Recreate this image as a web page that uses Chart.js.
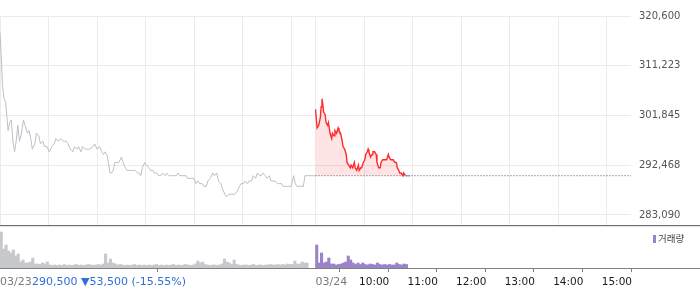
<!DOCTYPE html>
<html>
<head>
<meta charset="utf-8">
<script src="https://cdn.jsdelivr.net/npm/chart.js@4/dist/chart.umd.min.js"></script>
<style>
body { margin: 0; background: #fff; }
#wrap { position: relative; width: 700px; height: 289px; overflow: hidden; font-family: "DejaVu Sans", sans-serif; }
#priceChart { position: absolute; left: 0; top: 0; }
#volumeChart { position: absolute; left: 0; top: 226px; }
.sep { position: absolute; left: 0; width: 700px; height: 1px; }
#change { position: absolute; left: 32px; top: 276px; font-size: 11px; line-height: 12px; color: #2f6fd8; white-space: nowrap; }
#legend { position: absolute; left: 653px; top: 232px; font-family: "Noto Sans CJK KR", sans-serif; font-size: 9.5px; line-height: 12px; color: #444; white-space: nowrap; }
#legend i { display: inline-block; width: 3px; height: 8px; background: #9a83c8; margin-right: 2px; vertical-align: -1px; }
</style>
</head>
<body>
<div id="wrap">
    <canvas id="priceChart" width="700" height="226"></canvas>
    <canvas id="volumeChart" width="700" height="63"></canvas>
    <div class="sep" style="top:225px;background:#6e6e6e"></div>
    <div class="sep" style="top:226px;background:#e4e4e4"></div>
    <div class="sep" style="top:268px;background:#808080"></div>
    <div id="change">290,500 ▼53,500 (-15.55%)</div>
    <div id="legend"><i></i>거래량</div>
</div>

<script>
// minutes counted from 03/23 09:00, the 03/24 session starts at 390
const BASE_PRICE = 290500
const DAY_TWO_OPEN = 390
const SESSION_END = 780
const VOLUME_STEP = 3

const dayOneMinutes = [
    0, 2, 3, 5, 7, 8, 10, 12, 14, 16,
    18, 20, 22, 24, 26, 29, 31, 34, 36, 38,
    40, 43, 45, 48, 50, 53, 55, 58, 61, 64,
    67, 69, 72, 75, 78, 82, 84, 87, 90, 92,
    95, 97, 100, 102, 105, 108, 111, 115, 117, 120,
    123, 126, 128, 130, 132, 134, 136, 138, 140, 142,
    145, 147, 150, 152, 155, 157, 161, 164, 167, 170,
    172, 174, 176, 179, 181, 184, 186, 189, 191, 194,
    196, 199, 201, 204, 206, 209, 211, 213, 216, 218,
    220, 222, 225, 227, 230, 232, 235, 237, 240, 242,
    245, 247, 250, 252, 255, 257, 260, 263, 265, 268,
    270, 273, 275, 278, 280, 283, 287, 290, 293, 296,
    298, 301, 303, 306, 308, 311, 313, 316, 318, 321,
    323, 325, 328, 330, 333, 335, 338, 340, 343, 345,
    348, 350, 353, 355, 358, 360, 363, 365, 367, 370,
    372, 375, 377, 380, 389
]

const dayOnePrices = [
    317500, 311500, 307500, 305000, 304500, 302500, 299000, 300500, 301000, 297000,
    295000, 297000, 300000, 297000, 298000, 301000, 300000, 298500, 299000, 297500,
    295500, 296500, 298500, 298000, 296500, 297000, 296000, 296000, 295000, 296000,
    296500, 297500, 297000, 297500, 297000, 297000, 296500, 295500, 295000, 296000,
    295500, 296000, 295000, 296000, 295500, 295500, 295500, 296000, 296500, 295500,
    296000, 295000, 294500, 295000, 294500, 293000, 291000, 291000, 291500, 293000,
    293000, 293000, 294000, 293000, 292000, 291500, 291500, 291500, 291500, 291000,
    291000, 290500, 292000, 293000, 292500, 292000, 291500, 291500, 291000, 291000,
    290500, 290500, 291000, 290500, 291000, 290500, 290500, 290500, 290500, 290500,
    291000, 290500, 290500, 290500, 290500, 290000, 290000, 290000, 290000, 289000,
    289500, 289000, 289000, 288500, 288500, 289500, 290000, 291000, 290500, 291000,
    289500, 289000, 288000, 287000, 286500, 287000, 287000, 287000, 287500, 288500,
    289000, 289000, 289500, 289000, 289500, 289500, 290500, 290000, 291000, 290500,
    290500, 291000, 290500, 290000, 290500, 289500, 289500, 289500, 289000, 289000,
    289000, 288500, 288500, 288500, 288500, 288500, 290500, 289000, 288500, 288500,
    288500, 288500, 290500, 290500, 290500
]

const dayTwoMinutes = [
    390, 392, 394, 396, 397, 398, 399, 400, 402, 403,
    405, 406, 408, 410, 411, 413, 414, 416, 418, 419,
    421, 423, 424, 426, 428, 429, 431, 433, 434, 436,
    438, 439, 441, 443, 444, 446, 447, 449, 451, 452,
    454, 455, 456, 458, 460, 461, 463, 465, 466, 468,
    470, 471, 473, 475, 476, 478, 480, 481, 483, 485,
    486, 488, 490, 491, 493, 494, 496, 498, 499, 501,
    503, 507
]

const dayTwoPrices = [
    303000, 299500, 300000, 301500, 303500, 305000, 304000, 302500, 302000, 300500,
    300000, 300500, 298500, 297500, 298500, 298000, 299000, 298500, 299500, 299000,
    298500, 297000, 296000, 295500, 294500, 293000, 292500, 292000, 292500, 292000,
    293000, 292000, 291500, 292500, 291500, 292000, 292000, 293000, 293500, 294500,
    295000, 295500, 295000, 294000, 294500, 295000, 295000, 294500, 293000, 292000,
    292000, 293000, 293500, 293500, 293500, 293500, 294500, 294000, 293500, 293500,
    293500, 293000, 293000, 292000, 291500, 291000, 291000, 290500, 291000, 290500,
    290500, 290500
]

// volume per 3-minute bucket
const dayOneVolume = [
    36000, 19000, 23000, 17000, 15000, 18000, 12000, 14000, 6000, 8000,
    5000, 5000, 6000, 10000, 4000, 4000, 3500, 5000, 4000, 6000,
    3000, 2500, 3000, 2500, 3000, 2500, 3500, 2500, 3000, 2500,
    3000, 3500, 2500, 3000, 2500, 3000, 3500, 3000, 2500, 3000,
    3500, 3000, 4000, 14000, 5000, 9000, 5000, 4000, 3000, 3500,
    3000, 2500, 3000, 2500, 3000, 3500, 2500, 3000, 2500, 3000,
    2500, 3000, 2500, 3000, 3500, 2500, 3000, 2500, 3000, 2500,
    3000, 3500, 2500, 3000, 2500, 3000, 3500, 3000, 2500, 3000,
    4000, 7000, 5000, 6000, 3500, 3000, 2500, 3000, 3000, 2500,
    3000, 4000, 9000, 6000, 5000, 3500, 8000, 3500, 3000, 2500,
    3000, 3000, 2500, 3000, 3500, 2500, 3000, 3000, 2500, 3000,
    3000, 3500, 3000, 3000, 3500, 3000, 3500, 3000, 4000, 3500,
    3500, 7000, 4000, 4000, 6000, 5000, 5000
]

const dayTwoVolume = [
    23000, 5000, 15000, 5000, 6000, 10000, 4000, 4000, 3000, 3500,
    4000, 5000, 6000, 12000, 8000, 5000, 3500, 5000, 3500, 5000,
    3500, 3000, 4000, 3500, 3000, 5000, 3500, 3000, 3500, 3000,
    3500, 3000, 3000, 5000, 3500, 3000, 4000, 3500
]

const gridMinutes = [0, 60, 120, 180, 240, 300, 360, 390, 450, 510, 570, 630, 690, 750]
const yTickValues = [283090, 292467.5, 301845, 311222.5, 320600]
const yTickLabels = ["283,090", "292,468", "301,845", "311,223", "320,600"]
const xLabelMinutes = [0, 390, 450, 510, 570, 630, 690, 750]
const xLabels = ["03/23", "03/24", "10:00", "11:00", "12:00", "13:00", "14:00", "15:00"]


function points(xs, ys) {
    return xs.map((x, i) => ({ x: x, y: ys[i] }))
}

function bars(values, start) {
    return values.map((v, i) => ({ x: start + i * VOLUME_STEP + 1.5, y: v }))
}


const timeLabels = {
    id: "timeLabels",
    afterDraw(chart) {
        const ctx = chart.ctx
        const x = chart.scales.x
        ctx.save()
        ctx.textBaseline = "middle"
        ctx.textAlign = "left"
        xLabels.forEach((label, i) => {
            const px = x.getPixelForValue(xLabelMinutes[i])
            const isDate = label.includes("/")
            ctx.font = isDate ? "11px 'DejaVu Sans'" : "10.5px 'DejaVu Sans'"
            ctx.fillStyle = isDate ? "#7a7a7a" : "#1a1a1a"
            ctx.fillText(label, isDate ? px : px - 5, chart.chartArea.bottom + 14)
        })
        ctx.restore()
    }
}


new Chart(document.getElementById("priceChart"), {
    type: "line",
    data: {
        datasets: [
            {
                data: points(dayOneMinutes, dayOnePrices),
                borderColor: "#bcbfc6",
                borderWidth: 1,
                pointRadius: 0,
                fill: false
            },
            {
                data: points(dayTwoMinutes, dayTwoPrices),
                borderColor: "#ff2b2b",
                borderWidth: 1.4,
                pointRadius: 0,
                fill: { value: BASE_PRICE },
                backgroundColor: "rgba(255,30,40,0.12)",
                segment: {
                    borderColor: c => (c.p0.parsed.y <= BASE_PRICE && c.p1.parsed.y <= BASE_PRICE) ? "#7b9bd6" : undefined
                }
            },
            {
                data: [{ x: DAY_TWO_OPEN, y: BASE_PRICE }, { x: SESSION_END, y: BASE_PRICE }],
                borderColor: "#555",
                borderWidth: 1,
                borderDash: [1, 2],
                pointRadius: 0,
                fill: false
            }
        ]
    },
    options: {
        responsive: false,
        animation: false,
        layout: { padding: { top: 16, bottom: 1, left: 0, right: 0 } },
        plugins: { legend: { display: false }, tooltip: { enabled: false } },
        scales: {
            x: {
                type: "linear",
                min: 0,
                max: SESSION_END,
                afterBuildTicks: s => { s.ticks = gridMinutes.map(v => ({ value: v })) },
                afterFit: s => { s.height = 0; s.paddingLeft = 0; s.paddingRight = 0 },
                ticks: { display: false },
                border: { display: false },
                grid: { color: "#ebebeb", drawTicks: false }
            },
            y: {
                position: "right",
                min: 281205,
                max: 320600,
                afterBuildTicks: s => { s.ticks = yTickValues.map(v => ({ value: v })) },
                afterFit: s => { s.width = 69; s.paddingTop = 0; s.paddingBottom = 0 },
                ticks: {
                    padding: 8,
                    color: "#555",
                    autoSkip: false,
                    font: { family: "DejaVu Sans", size: 10 },
                    callback: (v, i) => yTickLabels[i]
                },
                border: { display: false },
                grid: { color: "#ebebeb", drawTicks: false }
            }
        }
    }
})


new Chart(document.getElementById("volumeChart"), {
    type: "bar",
    data: {
        datasets: [
            {
                data: bars(dayOneVolume, 0),
                backgroundColor: "#c6c8cc",
                grouped: false,
                barPercentage: 1,
                categoryPercentage: 1
            },
            {
                data: bars(dayTwoVolume, DAY_TWO_OPEN),
                backgroundColor: "#9a83c8",
                grouped: false,
                barPercentage: 1,
                categoryPercentage: 1
            }
        ]
    },
    options: {
        responsive: false,
        animation: false,
        layout: { padding: { top: 3, right: 69, left: 0, bottom: 0 } },
        plugins: { legend: { display: false }, tooltip: { enabled: false } },
        scales: {
            x: {
                type: "linear",
                min: 0,
                max: SESSION_END,
                offset: false,
                afterBuildTicks: s => { s.ticks = xLabelMinutes.map(v => ({ value: v })) },
                afterFit: s => { s.height = 21; s.paddingLeft = 0; s.paddingRight = 0 },
                ticks: { display: false },
                border: { display: false },
                grid: { drawOnChartArea: false, drawTicks: true, tickLength: 4, color: "#808080" }
            },
            y: { display: false, min: 0, max: 39000 }
        }
    },
    plugins: [timeLabels]
})
</script>
</body>
</html>
